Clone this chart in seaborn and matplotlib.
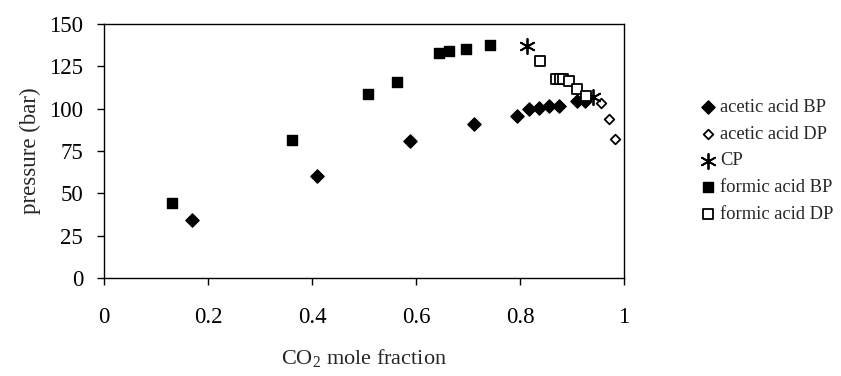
import pandas as pd
import seaborn as sns
import matplotlib.pyplot as plt

# values
acetic_bp_x = [0.170, 0.409, 0.588, 0.712, 0.794, 0.817, 0.836, 0.855, 0.875, 0.909, 0.925]
acetic_bp_p = [34.4, 60.4, 80.9, 91.0, 95.9, 99.6, 100.6, 101.8, 101.8, 104.5, 104.5]

acetic_dp_x = [0.955, 0.971, 0.982]
acetic_dp_p = [103.2, 93.7, 82.1]

cp_x = [0.813, 0.941]
cp_p = [137.2, 107.1]

formic_bp_x = [0.131, 0.362, 0.508, 0.563, 0.644, 0.663, 0.696, 0.742]
formic_bp_p = [44.1, 81.5, 108.7, 115.8, 132.9, 134.0, 135.3, 137.6]

formic_dp_x = [0.839, 0.869, 0.876, 0.882, 0.894, 0.909, 0.927]
formic_dp_p = [128.0, 117.7, 117.7, 117.3, 116.2, 111.5, 107.5]

sns.set_style('white')
plt.rcParams['font.family'] = ['Liberation Serif', 'DejaVu Serif']
plt.rcParams['mathtext.fontset'] = 'custom'
plt.rcParams['mathtext.rm'] = 'Liberation Serif'

fig, ax = plt.subplots(figsize=(8.41, 3.76), dpi=100)
fig.subplots_adjust(left=0.1237, right=0.742, top=0.936, bottom=0.2606)

series = [
    ('acetic acid BP', acetic_bp_x, acetic_bp_p, 'D', 'black', 'black', 45, 1.0),
    ('acetic acid DP', acetic_dp_x, acetic_dp_p, 'D', 'white', 'black', 24, 1.3),
    ('CP', cp_x, cp_p, (6, 2, 0), 'black', 'black', 120, 1.3),
    ('formic acid BP', formic_bp_x, formic_bp_p, 's', 'black', 'black', 48, 1.0),
    ('formic acid DP', formic_dp_x, formic_dp_p, 's', 'white', 'black', 55, 1.3),
]

for name, xs, ps, mk, fc, ec, size, lw in series:
    df = pd.DataFrame({'x': xs, 'p': ps})
    sns.scatterplot(data=df, x='x', y='p', marker=mk, s=size, color=fc,
                    edgecolor=ec, linewidth=lw, label=name, ax=ax, zorder=3)

ax.set_xlim(0, 1)
ax.set_ylim(0, 150)
ax.set_xticks([0, 0.2, 0.4, 0.6, 0.8, 1])
ax.set_xticklabels(['0', '0.2', '0.4', '0.6', '0.8', '1'])
ax.set_yticks(range(0, 151, 25))
ax.tick_params(direction='out', length=5, width=1, colors='black',
               labelsize=16.5, bottom=True, left=True)
ax.tick_params(axis='x', pad=16)
ax.tick_params(axis='y', pad=10)
for sp in ax.spines.values():
    sp.set_color('black')
    sp.set_linewidth(1)

ax.set_xlabel('CO$_2$ mole fraction', fontsize=16, labelpad=14)
ax.set_ylabel('pressure (bar)', fontsize=16.5, labelpad=6)

ax.legend(loc='center left', bbox_to_anchor=(0.8325, 0.572),
          bbox_transform=fig.transFigure, frameon=False, borderpad=0,
          borderaxespad=0, fontsize=13.3, handletextpad=0.28,
          labelspacing=0.53, handlelength=0.8)

fig.savefig('out.png', dpi=100)
